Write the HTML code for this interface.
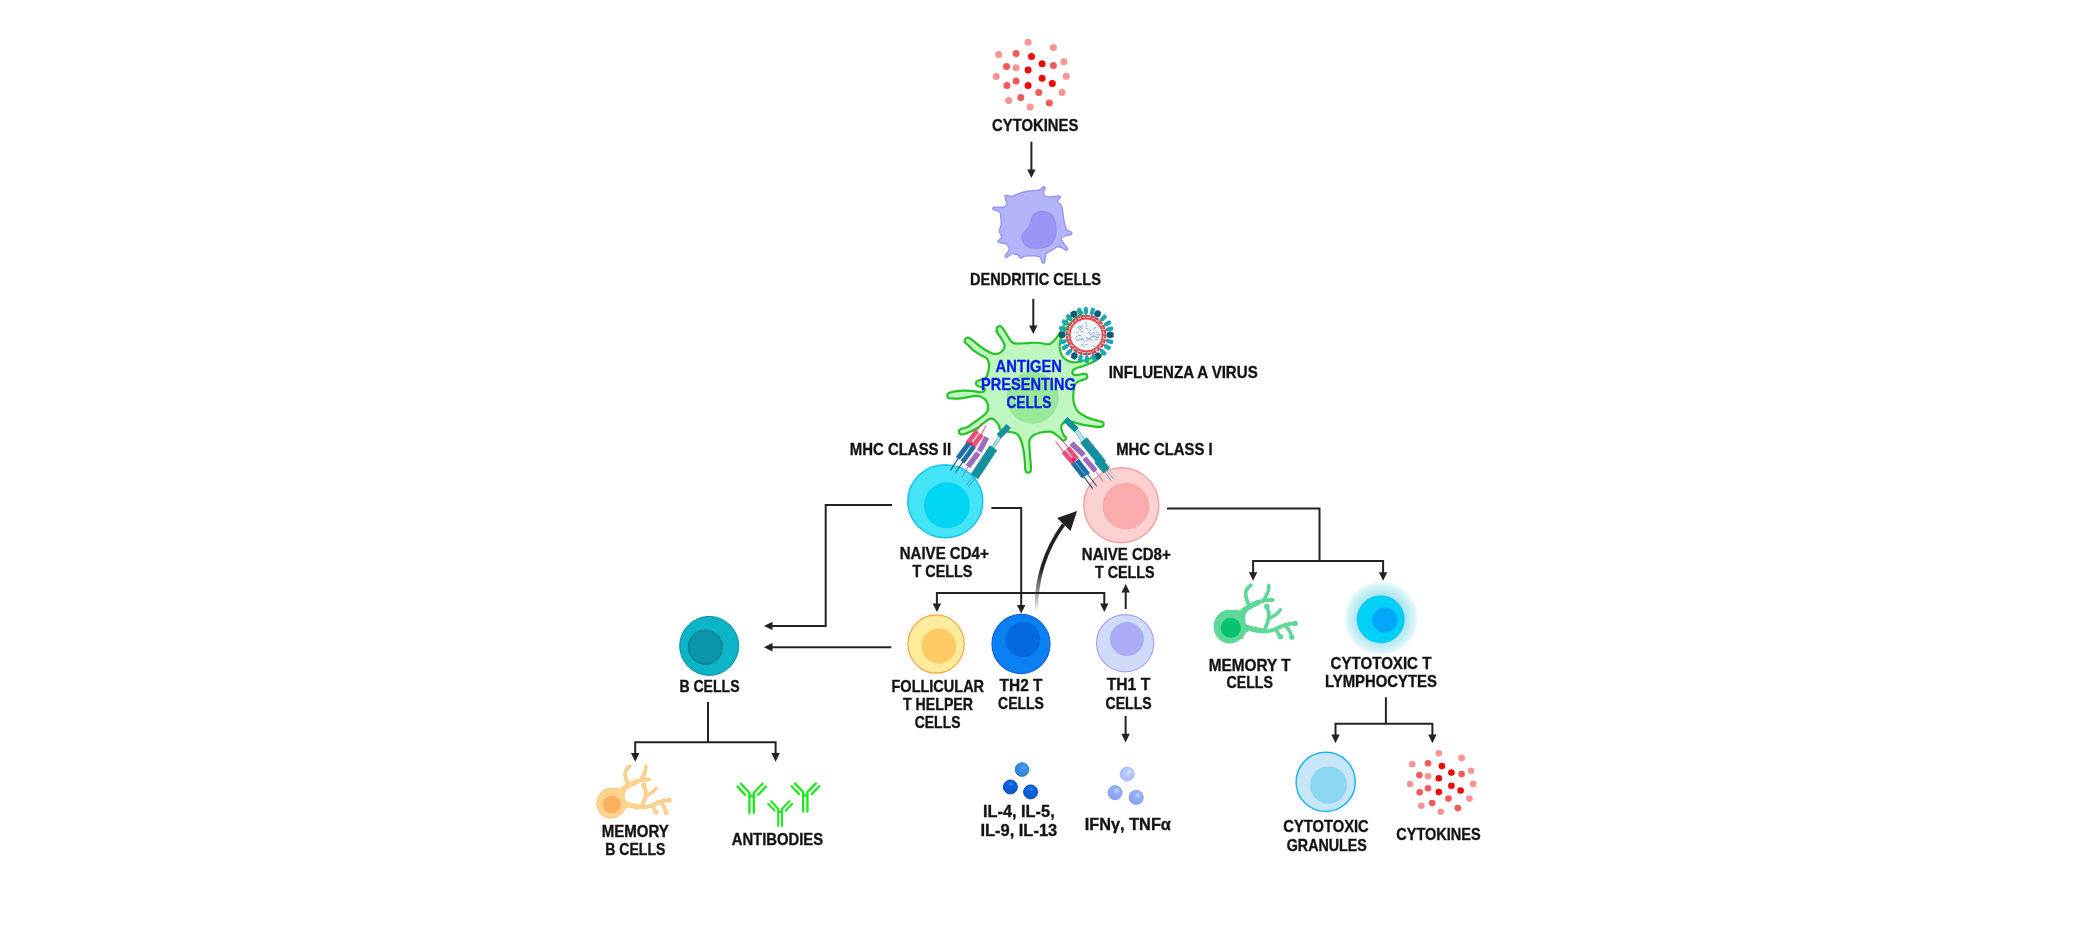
<!DOCTYPE html>
<html><head><meta charset="utf-8">
<style>
html,body{margin:0;padding:0;background:#fff;}
body{width:2083px;height:948px;overflow:hidden;}
svg{display:block;will-change:transform;}
text{font-family:"Liberation Sans",sans-serif;font-weight:bold;font-size:16.5px;fill:#141414;stroke:#141414;stroke-width:0.35px;}
</style></head><body>
<svg width="2083" height="948" viewBox="0 0 2083 948">

<rect width="2083" height="948" fill="#fff"/>

<g fill="none" stroke="#232323" stroke-width="2"><path d="M1031.4,141.7 V172"/><path d="M1033.3,299 V328"/><path d="M892,505 H825.7 V625.9 H770"/><path d="M891.3,647.2 H770"/><path d="M991.4,507.9 H1021.2 V607"/><path d="M936.9,606 V593.1 H1104.3 V606"/><path d="M1125.7,609 V590"/><path d="M1125.6,716 V736"/><path d="M708,702 V742.2"/><path d="M635.2,755 V742.2 H775.6 V755"/><path d="M1167,508.4 H1319.5 V560.9"/><path d="M1253.1,574 V560.9 H1383.1 V574"/><path d="M1385.9,697.2 V723.8"/><path d="M1335.5,736 V723.8 H1432.4 V736"/></g>
<g fill="#232323"><path d="M1027.2,169.4 L1035.6,169.4 L1031.4,178.0 Z"/><path d="M1029.1,325.4 L1037.5,325.4 L1033.3,334.0 Z"/><path d="M772.5,621.7 L772.5,630.1 L763.9,625.9 Z"/><path d="M772.5,643.0 L772.5,651.4 L763.9,647.2 Z"/><path d="M1017.0,604.9 L1025.4,604.9 L1021.2,613.5 Z"/><path d="M932.7,603.4 L941.1,603.4 L936.9,612.0 Z"/><path d="M1100.1,603.4 L1108.5,603.4 L1104.3,612.0 Z"/><path d="M1121.5,592.6 L1129.9,592.6 L1125.7,584.0 Z"/><path d="M1121.4,733.8 L1129.8,733.8 L1125.6,742.4 Z"/><path d="M631.0,753.1 L639.4,753.1 L635.2,761.7 Z"/><path d="M771.4,753.1 L779.8,753.1 L775.6,761.7 Z"/><path d="M1248.9,572.2 L1257.3,572.2 L1253.1,580.8 Z"/><path d="M1378.9,572.2 L1387.3,572.2 L1383.1,580.8 Z"/><path d="M1331.3,734.6 L1339.7,734.6 L1335.5,743.2 Z"/><path d="M1428.2,734.6 L1436.6,734.6 L1432.4,743.2 Z"/></g>
<defs><linearGradient id="cg" gradientUnits="userSpaceOnUse" x1="0" y1="612" x2="0" y2="568"><stop offset="0" stop-color="#222" stop-opacity="0"/><stop offset="1" stop-color="#222" stop-opacity="1"/></linearGradient></defs>
<path d="M1036.3,611 C1036,582 1043,553 1063.5,524.5" fill="none" stroke="url(#cg)" stroke-width="3.8"/>
<path d="M1057.1,517.9 L1077.1,510.9 L1070.5,530.9 Z" fill="#222"/>
<g><circle cx="1028.1" cy="42.2" r="3.50" fill="#f89494"/><circle cx="1053.4" cy="47.4" r="3.50" fill="#f89494"/><circle cx="998.6" cy="54.4" r="3.50" fill="#f89494"/><circle cx="1016.1" cy="53.4" r="3.50" fill="#f35a5a"/><circle cx="1031.5" cy="56.5" r="3.50" fill="#ee0a0a"/><circle cx="1063.9" cy="61.7" r="3.50" fill="#f89494"/><circle cx="1042.1" cy="63.7" r="3.50" fill="#ee0a0a"/><circle cx="1053.4" cy="65.4" r="3.50" fill="#f35a5a"/><circle cx="1006.5" cy="66.5" r="3.50" fill="#f35a5a"/><circle cx="1016.1" cy="67.7" r="3.50" fill="#f89494"/><circle cx="1028.1" cy="70.0" r="3.50" fill="#ee0a0a"/><circle cx="996.2" cy="76.4" r="3.50" fill="#f89494"/><circle cx="1066.2" cy="76.2" r="3.50" fill="#f89494"/><circle cx="1016.1" cy="81.0" r="3.50" fill="#f35a5a"/><circle cx="1042.1" cy="78.3" r="3.50" fill="#ee0a0a"/><circle cx="1006.9" cy="85.5" r="3.50" fill="#f35a5a"/><circle cx="1028.1" cy="85.4" r="3.50" fill="#ee0a0a"/><circle cx="1052.3" cy="83.6" r="3.50" fill="#ee0a0a"/><circle cx="1038.8" cy="92.6" r="3.50" fill="#f35a5a"/><circle cx="1062.1" cy="92.6" r="3.50" fill="#f89494"/><circle cx="1008.7" cy="100.5" r="3.50" fill="#f89494"/><circle cx="1020.8" cy="97.6" r="3.50" fill="#f35a5a"/><circle cx="1030.2" cy="107.1" r="3.50" fill="#f89494"/><circle cx="1049.3" cy="103.1" r="3.50" fill="#f35a5a"/></g>
<g><circle cx="1438.8" cy="753.2" r="3.32" fill="#f89494"/><circle cx="1461.6" cy="757.9" r="3.32" fill="#f89494"/><circle cx="1412.2" cy="764.2" r="3.32" fill="#f89494"/><circle cx="1428.0" cy="763.3" r="3.32" fill="#f35a5a"/><circle cx="1441.9" cy="766.1" r="3.32" fill="#ee0a0a"/><circle cx="1471.0" cy="770.8" r="3.32" fill="#f89494"/><circle cx="1451.4" cy="772.6" r="3.32" fill="#ee0a0a"/><circle cx="1461.6" cy="774.1" r="3.32" fill="#f35a5a"/><circle cx="1419.4" cy="775.1" r="3.32" fill="#f35a5a"/><circle cx="1428.0" cy="776.2" r="3.32" fill="#f89494"/><circle cx="1438.8" cy="778.3" r="3.32" fill="#ee0a0a"/><circle cx="1410.1" cy="784.0" r="3.32" fill="#f89494"/><circle cx="1473.1" cy="783.9" r="3.32" fill="#f89494"/><circle cx="1428.0" cy="788.2" r="3.32" fill="#f35a5a"/><circle cx="1451.4" cy="785.7" r="3.32" fill="#ee0a0a"/><circle cx="1419.7" cy="792.2" r="3.32" fill="#f35a5a"/><circle cx="1438.8" cy="792.1" r="3.32" fill="#ee0a0a"/><circle cx="1460.6" cy="790.5" r="3.32" fill="#ee0a0a"/><circle cx="1448.4" cy="798.6" r="3.32" fill="#f35a5a"/><circle cx="1469.4" cy="798.6" r="3.32" fill="#f89494"/><circle cx="1421.3" cy="805.7" r="3.32" fill="#f89494"/><circle cx="1432.2" cy="803.1" r="3.32" fill="#f35a5a"/><circle cx="1440.7" cy="811.7" r="3.32" fill="#f89494"/><circle cx="1457.9" cy="808.1" r="3.32" fill="#f35a5a"/></g>
<path d="M1013.5,195.9 C1015.0,195.4 1016.8,194.1 1019.2,193.3 C1021.5,192.5 1024.9,191.7 1027.7,191.2 C1030.6,190.7 1034.3,190.6 1036.2,190.4 C1038.2,190.2 1038.5,190.5 1039.6,190.0 C1040.7,189.5 1042.1,187.9 1042.8,187.4 C1043.5,186.8 1043.3,186.9 1043.6,186.8 C1044.0,186.8 1044.4,186.9 1044.6,187.1 C1044.9,187.3 1045.1,187.7 1045.2,188.0 C1045.2,188.3 1045.3,188.1 1044.9,189.0 C1044.6,189.8 1042.9,191.9 1043.1,193.1 C1043.2,194.3 1044.3,195.5 1045.7,196.1 C1047.1,196.7 1049.8,196.7 1051.4,196.7 C1053.0,196.7 1054.3,196.4 1055.4,196.3 C1056.6,196.2 1057.7,196.1 1058.4,196.0 C1059.0,196.0 1059.0,195.8 1059.3,195.9 C1059.6,195.9 1059.9,196.2 1060.1,196.4 C1060.2,196.7 1060.3,197.1 1060.2,197.4 C1060.2,197.7 1060.2,197.5 1059.7,198.1 C1059.2,198.8 1057.3,200.1 1057.3,201.1 C1057.4,202.1 1059.2,203.1 1060.0,204.2 C1060.8,205.3 1061.5,205.5 1062.1,207.5 C1062.6,209.5 1062.9,213.2 1063.3,216.1 C1063.7,218.9 1064.1,222.3 1064.7,224.6 C1065.3,226.9 1065.8,228.6 1066.8,229.8 C1067.8,231.0 1070.0,231.4 1070.8,231.8 C1071.6,232.2 1071.5,232.1 1071.7,232.3 C1071.9,232.6 1072.0,233.0 1071.9,233.3 C1071.9,233.6 1071.7,234.0 1071.4,234.2 C1071.2,234.4 1071.3,234.2 1070.4,234.5 C1069.6,234.7 1067.8,235.1 1066.4,235.5 C1065.1,235.9 1063.2,236.3 1062.3,236.9 C1061.5,237.6 1061.1,238.5 1061.4,239.6 C1061.7,240.7 1063.0,242.4 1064.0,243.8 C1064.9,245.2 1066.5,247.1 1067.1,248.0 C1067.7,248.8 1067.5,248.5 1067.5,248.8 C1067.5,249.1 1067.4,249.5 1067.2,249.7 C1067.0,249.9 1066.6,250.1 1066.3,250.2 C1066.0,250.2 1066.2,250.2 1065.4,249.8 C1064.6,249.4 1062.8,248.1 1061.4,247.6 C1060.0,247.1 1058.8,246.4 1057.1,246.9 C1055.5,247.4 1053.3,249.6 1051.4,250.7 C1049.6,251.8 1047.2,252.6 1046.2,253.6 C1045.2,254.5 1045.8,255.3 1045.5,256.7 C1045.3,258.0 1044.8,260.7 1044.6,261.7 C1044.4,262.7 1044.5,262.5 1044.3,262.7 C1044.1,262.9 1043.7,263.1 1043.4,263.1 C1043.0,263.2 1042.6,263.0 1042.4,262.8 C1042.1,262.6 1042.3,262.8 1041.9,261.9 C1041.6,261.0 1041.5,258.3 1040.4,257.3 C1039.3,256.4 1037.3,256.2 1035.3,255.9 C1033.3,255.7 1030.6,255.8 1028.7,255.9 C1026.8,256.0 1025.0,256.1 1023.9,256.4 C1022.8,256.7 1022.8,257.4 1022.2,257.6 C1021.6,257.9 1021.0,258.4 1020.3,258.0 C1019.6,257.6 1019.2,255.8 1018.2,255.2 C1017.2,254.5 1015.5,254.3 1014.4,254.0 C1013.3,253.8 1012.9,253.1 1011.8,253.6 C1010.6,254.0 1008.3,256.3 1007.4,257.0 C1006.6,257.6 1006.8,257.4 1006.5,257.5 C1006.2,257.5 1005.8,257.3 1005.6,257.1 C1005.3,256.9 1005.1,256.5 1005.1,256.2 C1005.1,255.9 1004.8,256.3 1005.5,255.2 C1006.1,254.1 1008.6,251.1 1009.1,249.7 C1009.6,248.2 1008.8,247.4 1008.3,246.4 C1007.7,245.5 1006.6,244.3 1005.9,243.8 C1005.2,243.3 1005.0,243.6 1004.0,243.4 C1002.9,243.2 1000.4,242.7 999.6,242.5 C998.7,242.3 998.9,242.5 998.6,242.4 C998.4,242.3 998.1,241.9 998.0,241.6 C998.0,241.3 998.0,240.9 998.1,240.7 C998.3,240.4 998.3,240.7 998.9,240.1 C999.5,239.6 1001.3,238.2 1001.6,237.3 C1001.9,236.4 1001.1,235.6 1000.7,234.6 C1000.3,233.6 999.3,232.4 999.2,231.2 C999.2,230.1 999.9,229.0 1000.2,227.9 C1000.5,226.8 1001.0,226.3 1001.1,224.6 C1001.3,222.9 1001.1,219.8 1000.9,218.0 C1000.8,216.1 1000.7,214.5 1000.4,213.4 C1000.1,212.3 1000.1,212.1 999.0,211.5 C998.0,210.9 994.9,210.1 993.9,209.7 C992.9,209.3 993.3,209.4 993.1,209.2 C992.9,209.0 992.8,208.6 992.9,208.3 C992.9,208.0 993.1,207.6 993.4,207.5 C993.6,207.3 993.0,207.3 994.3,207.3 C995.6,207.2 999.3,207.4 1000.9,207.3 C1002.6,207.3 1003.0,207.5 1004.0,207.0 C1005.0,206.6 1006.4,205.6 1006.8,204.7 C1007.2,203.7 1006.5,202.3 1006.4,201.4 C1006.2,200.6 1005.9,200.4 1005.7,199.7 C1005.5,199.0 1005.4,197.8 1005.2,197.2 C1005.1,196.7 1004.8,196.7 1004.8,196.4 C1004.8,196.1 1005.0,195.7 1005.2,195.5 C1005.4,195.3 1005.7,195.1 1006.0,195.1 C1006.3,195.1 1006.2,195.2 1006.9,195.4 C1007.6,195.6 1009.1,196.2 1010.1,196.3 C1011.2,196.4 1012.0,196.5 1013.5,195.9Z" fill="#b4b4fb" stroke="#9696f0" stroke-width="1.4"/>
<path d="M1041.9,211.3 C1044.2,211.7 1049.1,212.0 1051.4,214.2 C1053.7,216.4 1055.1,220.8 1055.7,224.6 C1056.3,228.4 1056.3,233.5 1055.2,236.9 C1054.2,240.4 1052.4,243.6 1049.5,245.5 C1046.7,247.4 1041.9,248.2 1038.1,248.3 C1034.4,248.5 1029.4,248.0 1026.8,246.4 C1024.1,244.9 1022.5,241.2 1022.0,238.8 C1021.5,236.5 1022.6,234.4 1023.9,232.2 C1025.2,230.0 1028.2,228.2 1029.6,225.6 C1031.0,222.9 1031.0,218.4 1032.5,216.1 C1033.9,213.8 1036.6,212.6 1038.1,211.8 C1039.7,211.0 1039.7,210.9 1041.9,211.3Z" fill="#9a94f6" stroke="#8a84e6" stroke-width="0.8"/>
<path d="M959.0,390.8 C962.6,390.5 967.5,390.6 971.3,390.8 C975.1,391.0 979.6,392.6 981.8,392.2 C984.0,391.8 985.4,389.5 984.6,388.4 C983.8,387.3 978.3,386.6 977.0,385.5 C975.7,384.4 976.0,382.6 976.6,381.7 C977.2,380.8 979.3,380.4 980.8,379.8 C982.3,379.2 984.3,379.3 985.6,377.9 C986.9,376.5 987.9,373.7 988.4,371.3 C988.9,368.9 989.2,365.9 988.9,363.7 C988.6,361.5 987.9,359.4 986.5,358.0 C985.1,356.6 983.1,356.5 980.8,355.1 C978.5,353.8 974.9,351.5 972.8,349.9 C970.7,348.2 969.4,346.3 968.3,345.2 C967.2,344.1 966.6,344.1 966.0,343.4 C965.3,342.8 964.8,342.1 964.7,341.3 C964.6,340.6 964.9,339.6 965.4,339.0 C965.8,338.3 966.7,337.8 967.5,337.7 C968.2,337.6 968.8,337.8 969.8,338.4 C970.9,338.9 971.4,339.6 973.5,341.2 C975.6,342.8 979.0,345.8 982.3,347.9 C985.6,350.0 990.1,353.0 993.2,353.7 C996.3,354.4 998.9,353.6 1000.8,352.3 C1002.7,351.0 1004.6,348.0 1004.6,345.6 C1004.6,343.2 1002.1,340.3 1000.8,338.0 C999.5,335.7 997.2,332.8 996.6,331.6 C996.0,330.4 996.9,331.3 996.9,330.7 C997.0,330.2 996.5,329.0 996.7,328.3 C996.9,327.6 997.6,326.9 998.3,326.5 C998.9,326.2 1000.0,326.1 1000.7,326.3 C1001.4,326.5 1001.5,326.6 1002.5,327.9 C1003.4,329.2 1004.9,331.8 1006.5,334.2 C1008.1,336.6 1010.2,340.7 1012.2,342.3 C1014.2,343.9 1015.8,343.6 1018.8,343.7 C1021.8,343.8 1026.7,342.9 1030.2,342.8 C1033.8,342.7 1037.0,342.8 1040.1,343.0 C1043.2,343.2 1046.5,344.9 1049.0,344.3 C1051.5,343.7 1053.3,341.4 1055.3,339.2 C1057.3,337.0 1058.8,334.5 1061.0,331.0 C1063.2,327.5 1065.6,321.5 1068.3,318.3 C1071.0,315.1 1074.7,312.5 1077.0,311.6 C1079.3,310.7 1082.8,311.3 1082.0,313.0 C1081.2,314.7 1075.0,318.8 1072.0,322.0 C1069.0,325.2 1065.9,329.0 1064.0,332.0 C1062.1,335.0 1061.2,337.3 1060.5,340.0 C1059.8,342.7 1059.3,345.3 1059.7,348.2 C1060.1,351.1 1061.1,354.8 1062.9,357.1 C1064.8,359.4 1068.2,361.1 1070.8,361.9 C1073.4,362.7 1076.1,362.2 1078.7,361.9 C1081.3,361.5 1084.4,360.5 1086.6,359.8 C1088.8,359.1 1090.0,358.3 1091.9,357.7 C1093.8,357.1 1096.6,356.7 1098.2,356.1 C1099.8,355.5 1101.6,353.8 1101.6,354.3 C1101.6,354.8 1099.8,357.5 1098.2,358.9 C1096.6,360.3 1094.7,361.3 1091.9,362.6 C1089.1,363.9 1084.2,365.6 1081.4,366.6 C1078.6,367.6 1076.5,367.8 1075.0,368.7 C1073.5,369.6 1072.4,370.8 1072.4,371.9 C1072.4,373.0 1073.1,374.8 1075.0,375.1 C1076.9,375.4 1082.1,374.0 1083.9,373.8 C1085.8,373.6 1085.5,373.7 1086.0,374.0 C1086.6,374.4 1087.1,375.1 1087.2,375.7 C1087.4,376.4 1087.3,377.3 1087.0,377.8 C1086.6,378.4 1086.8,378.3 1085.3,379.0 C1083.7,379.7 1079.5,380.7 1077.7,381.9 C1075.9,383.1 1075.2,383.6 1074.5,386.0 C1073.8,388.4 1073.3,393.1 1073.3,396.2 C1073.2,399.2 1073.4,401.7 1074.2,404.3 C1075.0,406.9 1075.9,409.5 1077.9,411.6 C1079.9,413.7 1083.0,415.4 1086.3,416.9 C1089.6,418.4 1095.4,420.0 1097.9,420.8 C1100.4,421.6 1100.4,421.3 1101.3,421.6 C1102.1,421.9 1102.7,422.1 1103.1,422.5 C1103.4,423.0 1103.7,423.9 1103.6,424.5 C1103.5,425.1 1103.1,425.9 1102.7,426.3 C1102.2,426.6 1102.0,426.7 1100.7,426.8 C1099.4,426.8 1098.1,427.0 1094.8,426.6 C1091.5,426.2 1085.4,425.2 1081.0,424.3 C1076.6,423.4 1071.6,421.1 1068.4,421.1 C1065.2,421.1 1063.2,422.9 1062.1,424.3 C1060.9,425.7 1061.2,427.7 1061.5,429.6 C1061.8,431.5 1063.6,434.8 1064.2,435.9 C1064.8,437.0 1064.9,436.0 1065.2,436.4 C1065.5,436.8 1066.0,437.5 1066.0,438.1 C1066.1,438.6 1065.8,439.4 1065.4,439.8 C1065.0,440.2 1064.3,440.6 1063.7,440.6 C1063.2,440.7 1063.0,440.8 1062.0,440.0 C1061.0,439.2 1059.7,437.3 1057.8,435.9 C1055.9,434.5 1053.5,432.2 1050.5,431.7 C1047.5,431.2 1042.9,432.0 1039.9,432.7 C1036.9,433.4 1034.2,434.5 1032.5,435.9 C1030.8,437.3 1029.8,438.2 1029.4,441.2 C1029.0,444.2 1029.7,449.6 1029.9,453.8 C1030.2,458.0 1030.7,463.8 1030.9,466.5 C1031.1,469.2 1031.1,468.9 1031.0,469.7 C1030.9,470.6 1030.8,471.3 1030.3,471.8 C1029.9,472.3 1029.0,472.7 1028.4,472.7 C1027.7,472.7 1026.8,472.5 1026.3,472.0 C1025.8,471.6 1025.6,471.0 1025.4,470.1 C1025.2,469.1 1025.3,469.2 1025.1,466.5 C1024.9,463.8 1024.8,458.2 1024.1,453.8 C1023.4,449.4 1022.1,443.4 1020.9,440.1 C1019.7,436.8 1018.8,435.2 1016.7,433.8 C1014.6,432.4 1010.9,432.2 1008.3,431.7 C1005.7,431.2 1002.5,431.7 1000.9,430.6 C999.3,429.5 999.8,427.1 998.8,425.3 C997.8,423.6 996.2,421.2 994.6,420.1 C993.0,419.1 992.3,417.6 989.3,419.0 C986.3,420.4 980.5,426.1 976.6,428.5 C972.7,430.9 968.4,432.6 966.0,433.6 C963.6,434.6 963.4,434.2 962.5,434.3 C961.5,434.4 960.9,434.4 960.3,434.0 C959.8,433.7 959.2,432.9 959.1,432.3 C958.9,431.6 959.0,430.7 959.4,430.1 C959.7,429.6 959.9,429.4 961.1,428.9 C962.4,428.4 965.3,428.1 967.0,427.3 C968.7,426.5 968.9,426.0 971.4,424.3 C973.9,422.6 979.3,419.0 981.9,416.9 C984.5,414.8 986.2,413.7 987.2,411.6 C988.2,409.5 988.2,406.5 987.7,404.3 C987.2,402.1 985.9,399.9 984.0,398.5 C982.1,397.1 980.5,395.8 976.6,395.8 C972.7,395.8 965.2,398.0 960.8,398.4 C956.4,398.8 952.5,398.5 950.5,398.4 C948.4,398.3 948.8,398.2 948.3,397.8 C947.8,397.3 947.4,396.5 947.3,395.8 C947.2,395.1 947.5,394.1 947.9,393.6 C948.4,393.1 948.1,393.1 949.9,392.6 C951.8,392.1 955.4,391.1 959.0,390.8Z" fill="#c0f6c0" stroke="#25c325" stroke-width="2.2" stroke-linejoin="round"/>
<circle cx="1032.6" cy="397.7" r="25.6" fill="#98ea98" stroke="#88dd88" stroke-width="0.6"/>
<ellipse cx="945.3" cy="501.2" rx="37.5" ry="36.5" fill="#43e4f6" stroke="#19c2ef" stroke-width="1.5"/>
<circle cx="946.9" cy="505.2" r="23" fill="#00d6f4"/>
<circle cx="1121.3" cy="505.3" r="37.5" fill="#fdd0d1" stroke="#f2a3a5" stroke-width="1.5"/>
<circle cx="1125.9" cy="506" r="22.8" fill="#fbabad" stroke="#f59fa2" stroke-width="0.8"/>
<circle cx="709.2" cy="645.9" r="29.5" fill="#0bb4c7" stroke="#0a8fa3" stroke-width="1"/>
<circle cx="705.4" cy="647.2" r="17" fill="#0b96ac" stroke="#0a6f82" stroke-width="1"/>
<ellipse cx="936.1" cy="644" rx="28.1" ry="29.2" fill="#feec9c" stroke="#f5a33c" stroke-width="1.2"/>
<circle cx="938.8" cy="646.1" r="17.4" fill="#fdca63"/>
<ellipse cx="1021" cy="644" rx="29" ry="29.6" fill="#0a80f2" stroke="#0a62d9" stroke-width="1.2"/>
<circle cx="1022.9" cy="639.6" r="17.4" fill="#0468de"/>
<circle cx="1125.1" cy="643.2" r="28.6" fill="#d0dbf9" stroke="#aba0f5" stroke-width="1.2"/>
<circle cx="1126.9" cy="639.1" r="17" fill="#ababf6"/>
<circle cx="1325.7" cy="781.9" r="29.6" fill="#c7e6f8" stroke="#1ab4ee" stroke-width="1.5"/>
<circle cx="1328.5" cy="785" r="18.6" fill="#8bd6f3"/>
<g><path d="M975.8,432.4 L982.2,422.9" stroke="#d43c68" stroke-width="0.95" stroke-linecap="butt" fill="none"/><path d="M980.6,436.0 L986.1,425.3" stroke="#d43c68" stroke-width="0.95" stroke-linecap="butt" fill="none"/><path d="M958.8,457.3 L950.5,470.4" stroke="#1d4a6a" stroke-width="1.03" stroke-linecap="butt" fill="none"/><path d="M963.6,460.9 L955.3,472.7" stroke="#1d4a6a" stroke-width="1.03" stroke-linecap="butt" fill="none"/><path d="M968.7,465.6 L962.0,477.5" stroke="#9b6cb9" stroke-width="0.95" stroke-linecap="butt" fill="none"/><path d="M975.1,475.1 L966.0,485.4" stroke="#16909f" stroke-width="0.71" stroke-linecap="butt" fill="none"/><path d="M977.0,476.3 L968.3,487.0" stroke="#16909f" stroke-width="0.71" stroke-linecap="butt" fill="none"/><path d="M973.1,474.3 L964.8,483.8" stroke="#5cc0cf" stroke-width="0.55" stroke-linecap="butt" fill="none"/><path d="M967.2,443.8 L977.0,430.9" stroke="#ea5079" stroke-width="4.90" fill="none"/><path d="M972.0,447.7 L981.7,434.5" stroke="#ea5079" stroke-width="4.90" fill="none"/><path d="M957.7,458.4 L969.0,443.2" stroke="#1c6ea6" stroke-width="4.90" fill="none"/><path d="M962.5,462.0 L973.8,446.3" stroke="#1c6ea6" stroke-width="4.90" fill="none"/><path d="M962.6,458.1 L971.1,445.8" stroke="#bfd8e8" stroke-width="0.55" stroke-linecap="butt" fill="none"/><circle cx="971.1" cy="443.5" r="1.58" fill="#e0105a"/><path d="M979.3,451.6 L986.7,437.3" stroke="#9b6cb9" stroke-width="5.38" fill="none"/><path d="M967.9,466.5 L978.3,452.9" stroke="#9b6cb9" stroke-width="5.38" fill="none"/><path d="M991.7,449.4 L1001.1,435.2" stroke="#bfe6ec" stroke-width="3.64" fill="none"/><path d="M991.3,447.8 L999.2,436.0" stroke="#16909f" stroke-width="0.55" stroke-linecap="butt" fill="none"/><path d="M993.6,448.6 L1001.6,436.8" stroke="#16909f" stroke-width="0.55" stroke-linecap="butt" fill="none"/><path d="M998.8,436.4 L1008.7,426.0" stroke="#16909f" stroke-width="6.01" fill="none"/><path d="M974.4,476.7 L993.5,447.8" stroke="#16909f" stroke-width="8.86" fill="none"/><path d="M1063.8,452.2 L1055.5,441.1" stroke="#d43c68" stroke-width="0.95" stroke-linecap="butt" fill="none"/><path d="M1068.6,448.2 L1060.3,437.9" stroke="#d43c68" stroke-width="0.95" stroke-linecap="butt" fill="none"/><path d="M1083.2,475.9 L1092.7,488.6" stroke="#1d4a6a" stroke-width="1.03" stroke-linecap="butt" fill="none"/><path d="M1087.2,473.5 L1096.7,486.2" stroke="#1d4a6a" stroke-width="1.03" stroke-linecap="butt" fill="none"/><path d="M1095.1,470.4 L1103.0,481.4" stroke="#9b6cb9" stroke-width="0.95" stroke-linecap="butt" fill="none"/><path d="M1105.4,468.8 L1113.7,479.1" stroke="#16909f" stroke-width="0.63" stroke-linecap="butt" fill="none"/><path d="M1103.4,470.0 L1111.3,480.6" stroke="#16909f" stroke-width="0.63" stroke-linecap="butt" fill="none"/><path d="M1107.3,467.6 L1115.6,477.5" stroke="#5cc0cf" stroke-width="0.47" stroke-linecap="butt" fill="none"/><path d="M1063.4,451.6 L1073.7,463.4" stroke="#ea5079" stroke-width="4.75" fill="none"/><path d="M1067.9,447.6 L1077.2,459.5" stroke="#ea5079" stroke-width="4.75" fill="none"/><path d="M1073.0,463.0 L1084.0,477.0" stroke="#1c6ea6" stroke-width="4.90" fill="none"/><path d="M1077.0,460.2 L1087.9,474.6" stroke="#1c6ea6" stroke-width="4.90" fill="none"/><path d="M1075.3,462.5 L1085.6,475.1" stroke="#bfd8e8" stroke-width="0.55" stroke-linecap="butt" fill="none"/><circle cx="1073.3" cy="459.7" r="1.74" fill="#e0105a"/><path d="M1071.5,443.2 L1083.9,455.2" stroke="#9b6cb9" stroke-width="5.38" fill="none"/><path d="M1084.4,457.8 L1095.5,471.0" stroke="#9b6cb9" stroke-width="5.06" fill="none"/><path d="M1075.3,428.9 L1084.0,441.4" stroke="#bfe6ec" stroke-width="3.64" fill="none"/><path d="M1074.1,430.4 L1081.2,441.1" stroke="#16909f" stroke-width="0.55" stroke-linecap="butt" fill="none"/><path d="M1077.7,429.2 L1084.8,439.5" stroke="#16909f" stroke-width="0.55" stroke-linecap="butt" fill="none"/><path d="M1065.3,419.3 L1076.6,430.1" stroke="#16909f" stroke-width="6.17" fill="none"/><path d="M1083.5,440.1 L1102.7,463.8" stroke="#16909f" stroke-width="8.70" fill="none"/><path d="M1097.7,460.0 L1106.7,470.5" stroke="#149098" stroke-width="8.54" fill="none"/></g>
<g><rect x="20.8" y="-2.1" width="7.2" height="4.2" rx="1.6" fill="#1fa6b6" transform="translate(1086.2,334.9) rotate(-105.5)"/><rect x="20.8" y="-2.1" width="7.2" height="4.2" rx="1.6" fill="#1fa6b6" transform="translate(1086.2,334.9) rotate(-90.8)"/><rect x="20.8" y="-2.1" width="7.2" height="4.2" rx="1.6" fill="#1fa6b6" transform="translate(1086.2,334.9) rotate(-75.2)"/><g transform="translate(1086.2,334.9) rotate(-61.6)"><rect x="20.8" y="-2.6" width="6.6" height="5.2" rx="1.2" fill="#10577a"/><rect x="22.3" y="-3.3" width="3.4" height="6.6" rx="1.2" fill="#10577a"/></g><rect x="20.8" y="-2.1" width="7.2" height="4.2" rx="1.6" fill="#1fa6b6" transform="translate(1086.2,334.9) rotate(-44.5)"/><rect x="20.8" y="-2.1" width="7.2" height="4.2" rx="1.6" fill="#1fa6b6" transform="translate(1086.2,334.9) rotate(-28.2)"/><rect x="20.8" y="-2.1" width="7.2" height="4.2" rx="1.6" fill="#1fa6b6" transform="translate(1086.2,334.9) rotate(-14.0)"/><g transform="translate(1086.2,334.9) rotate(0.0)"><rect x="20.8" y="-2.6" width="6.6" height="5.2" rx="1.2" fill="#10577a"/><rect x="22.3" y="-3.3" width="3.4" height="6.6" rx="1.2" fill="#10577a"/></g><rect x="20.8" y="-2.1" width="7.2" height="4.2" rx="1.6" fill="#1fa6b6" transform="translate(1086.2,334.9) rotate(15.7)"/><rect x="20.8" y="-2.1" width="7.2" height="4.2" rx="1.6" fill="#1fa6b6" transform="translate(1086.2,334.9) rotate(30.0)"/><rect x="20.8" y="-2.1" width="7.2" height="4.2" rx="1.6" fill="#1fa6b6" transform="translate(1086.2,334.9) rotate(45.5)"/><g transform="translate(1086.2,334.9) rotate(61.3)"><rect x="20.8" y="-2.6" width="6.6" height="5.2" rx="1.2" fill="#10577a"/><rect x="22.3" y="-3.3" width="3.4" height="6.6" rx="1.2" fill="#10577a"/></g><rect x="20.8" y="-2.1" width="7.2" height="4.2" rx="1.6" fill="#1fa6b6" transform="translate(1086.2,334.9) rotate(71.6)"/><rect x="20.8" y="-2.1" width="7.2" height="4.2" rx="1.6" fill="#1fa6b6" transform="translate(1086.2,334.9) rotate(88.5)"/><rect x="20.8" y="-2.1" width="7.2" height="4.2" rx="1.6" fill="#1fa6b6" transform="translate(1086.2,334.9) rotate(104.0)"/><g transform="translate(1086.2,334.9) rotate(119.5)"><rect x="20.8" y="-2.6" width="6.6" height="5.2" rx="1.2" fill="#10577a"/><rect x="22.3" y="-3.3" width="3.4" height="6.6" rx="1.2" fill="#10577a"/></g><rect x="20.8" y="-2.1" width="7.2" height="4.2" rx="1.6" fill="#1fa6b6" transform="translate(1086.2,334.9) rotate(135.0)"/><rect x="20.8" y="-2.1" width="7.2" height="4.2" rx="1.6" fill="#1fa6b6" transform="translate(1086.2,334.9) rotate(150.1)"/><rect x="20.8" y="-2.1" width="7.2" height="4.2" rx="1.6" fill="#1fa6b6" transform="translate(1086.2,334.9) rotate(163.4)"/><g transform="translate(1086.2,334.9) rotate(180.0)"><rect x="20.8" y="-2.6" width="6.6" height="5.2" rx="1.2" fill="#10577a"/><rect x="22.3" y="-3.3" width="3.4" height="6.6" rx="1.2" fill="#10577a"/></g><rect x="20.8" y="-2.1" width="7.2" height="4.2" rx="1.6" fill="#1fa6b6" transform="translate(1086.2,334.9) rotate(-164.9)"/><rect x="20.8" y="-2.1" width="7.2" height="4.2" rx="1.6" fill="#1fa6b6" transform="translate(1086.2,334.9) rotate(-149.3)"/><rect x="20.8" y="-2.1" width="7.2" height="4.2" rx="1.6" fill="#1fa6b6" transform="translate(1086.2,334.9) rotate(-134.5)"/><g transform="translate(1086.2,334.9) rotate(-120.8)"><rect x="20.8" y="-2.6" width="6.6" height="5.2" rx="1.2" fill="#10577a"/><rect x="22.3" y="-3.3" width="3.4" height="6.6" rx="1.2" fill="#10577a"/></g><circle cx="1086.2" cy="334.9" r="19.6" fill="#fde6e6"/><rect x="16.5" y="-0.7" width="5" height="1.4" fill="#1a8fa5" transform="translate(1086.2,334.9) rotate(-105.5)"/><rect x="16.5" y="-0.7" width="5" height="1.4" fill="#1a8fa5" transform="translate(1086.2,334.9) rotate(-90.8)"/><rect x="16.5" y="-0.7" width="5" height="1.4" fill="#1a8fa5" transform="translate(1086.2,334.9) rotate(-75.2)"/><rect x="16.5" y="-0.7" width="5" height="1.4" fill="#1a8fa5" transform="translate(1086.2,334.9) rotate(-61.6)"/><rect x="16.5" y="-0.7" width="5" height="1.4" fill="#1a8fa5" transform="translate(1086.2,334.9) rotate(-44.5)"/><rect x="16.5" y="-0.7" width="5" height="1.4" fill="#1a8fa5" transform="translate(1086.2,334.9) rotate(-28.2)"/><rect x="16.5" y="-0.7" width="5" height="1.4" fill="#1a8fa5" transform="translate(1086.2,334.9) rotate(-14.0)"/><rect x="16.5" y="-0.7" width="5" height="1.4" fill="#1a8fa5" transform="translate(1086.2,334.9) rotate(0.0)"/><rect x="16.5" y="-0.7" width="5" height="1.4" fill="#1a8fa5" transform="translate(1086.2,334.9) rotate(15.7)"/><rect x="16.5" y="-0.7" width="5" height="1.4" fill="#1a8fa5" transform="translate(1086.2,334.9) rotate(30.0)"/><rect x="16.5" y="-0.7" width="5" height="1.4" fill="#1a8fa5" transform="translate(1086.2,334.9) rotate(45.5)"/><rect x="16.5" y="-0.7" width="5" height="1.4" fill="#1a8fa5" transform="translate(1086.2,334.9) rotate(61.3)"/><rect x="16.5" y="-0.7" width="5" height="1.4" fill="#1a8fa5" transform="translate(1086.2,334.9) rotate(71.6)"/><rect x="16.5" y="-0.7" width="5" height="1.4" fill="#1a8fa5" transform="translate(1086.2,334.9) rotate(88.5)"/><rect x="16.5" y="-0.7" width="5" height="1.4" fill="#1a8fa5" transform="translate(1086.2,334.9) rotate(104.0)"/><rect x="16.5" y="-0.7" width="5" height="1.4" fill="#1a8fa5" transform="translate(1086.2,334.9) rotate(119.5)"/><rect x="16.5" y="-0.7" width="5" height="1.4" fill="#1a8fa5" transform="translate(1086.2,334.9) rotate(135.0)"/><rect x="16.5" y="-0.7" width="5" height="1.4" fill="#1a8fa5" transform="translate(1086.2,334.9) rotate(150.1)"/><rect x="16.5" y="-0.7" width="5" height="1.4" fill="#1a8fa5" transform="translate(1086.2,334.9) rotate(163.4)"/><rect x="16.5" y="-0.7" width="5" height="1.4" fill="#1a8fa5" transform="translate(1086.2,334.9) rotate(180.0)"/><rect x="16.5" y="-0.7" width="5" height="1.4" fill="#1a8fa5" transform="translate(1086.2,334.9) rotate(-164.9)"/><rect x="16.5" y="-0.7" width="5" height="1.4" fill="#1a8fa5" transform="translate(1086.2,334.9) rotate(-149.3)"/><rect x="16.5" y="-0.7" width="5" height="1.4" fill="#1a8fa5" transform="translate(1086.2,334.9) rotate(-134.5)"/><rect x="16.5" y="-0.7" width="5" height="1.4" fill="#1a8fa5" transform="translate(1086.2,334.9) rotate(-120.8)"/><circle cx="1086.2" cy="334.9" r="19.2" fill="none" stroke="#f03c40" stroke-width="2.3" stroke-dasharray="3.6 1.4"/><circle cx="1086.2" cy="334.9" r="16.4" fill="#eef8f9" stroke="#f24448" stroke-width="1.8"/><path d="M1085.0,336.5 Q1086.0,337.6 1087.0,338.4" fill="none" stroke="#5f68b4" stroke-width="0.8" stroke-opacity="0.75"/><path d="M1078.0,335.2 Q1079.0,335.3 1081.3,336.0" fill="none" stroke="#5f68b4" stroke-width="0.8" stroke-opacity="0.75"/><path d="M1090.2,337.9 Q1091.1,336.6 1091.9,336.7" fill="none" stroke="#5f68b4" stroke-width="0.8" stroke-opacity="0.75"/><path d="M1078.1,328.2 Q1079.0,327.7 1080.0,326.1" fill="none" stroke="#5f68b4" stroke-width="0.8" stroke-opacity="0.75"/><path d="M1086.7,338.5 Q1088.2,338.2 1089.9,338.5" fill="none" stroke="#5f68b4" stroke-width="0.8" stroke-opacity="0.75"/><path d="M1095.0,340.3 Q1095.8,339.2 1097.3,339.5" fill="none" stroke="#5f68b4" stroke-width="0.8" stroke-opacity="0.75"/><path d="M1093.1,332.3 Q1095.0,333.7 1095.3,333.9" fill="none" stroke="#5f68b4" stroke-width="0.8" stroke-opacity="0.75"/><path d="M1096.9,334.1 Q1097.1,335.4 1098.6,336.2" fill="none" stroke="#5f68b4" stroke-width="0.8" stroke-opacity="0.75"/><path d="M1093.4,328.9 Q1095.1,328.4 1095.4,327.2" fill="none" stroke="#5f68b4" stroke-width="0.8" stroke-opacity="0.75"/><path d="M1076.3,328.3 Q1077.5,327.1 1077.9,326.9" fill="none" stroke="#5f68b4" stroke-width="0.8" stroke-opacity="0.75"/><path d="M1087.7,333.5 Q1088.6,332.9 1090.6,331.8" fill="none" stroke="#5f68b4" stroke-width="0.8" stroke-opacity="0.75"/><path d="M1076.2,332.8 Q1078.1,332.7 1078.4,331.6" fill="none" stroke="#5f68b4" stroke-width="0.8" stroke-opacity="0.75"/><path d="M1081.1,344.9 Q1082.9,344.5 1083.5,343.6" fill="none" stroke="#5f68b4" stroke-width="0.8" stroke-opacity="0.75"/><path d="M1078.7,328.6 Q1079.6,328.5 1081.0,329.8" fill="none" stroke="#5f68b4" stroke-width="0.8" stroke-opacity="0.75"/><path d="M1075.5,337.1 Q1076.7,336.3 1078.3,335.7" fill="none" stroke="#5f68b4" stroke-width="0.8" stroke-opacity="0.75"/><path d="M1098.1,334.5 Q1099.4,334.2 1101.7,335.0" fill="none" stroke="#5f68b4" stroke-width="0.8" stroke-opacity="0.75"/><path d="M1079.7,326.8 Q1080.9,328.3 1083.0,328.4" fill="none" stroke="#5f68b4" stroke-width="0.8" stroke-opacity="0.75"/><path d="M1096.1,337.6 Q1096.5,338.2 1098.3,337.3" fill="none" stroke="#5f68b4" stroke-width="0.8" stroke-opacity="0.75"/><path d="M1079.4,340.2 Q1081.1,339.2 1082.6,338.7" fill="none" stroke="#5f68b4" stroke-width="0.8" stroke-opacity="0.75"/><path d="M1077.8,340.6 Q1078.7,340.3 1079.5,338.9" fill="none" stroke="#5f68b4" stroke-width="0.8" stroke-opacity="0.75"/><path d="M1089.2,329.2 Q1089.3,329.6 1090.9,330.8" fill="none" stroke="#5f68b4" stroke-width="0.8" stroke-opacity="0.75"/><path d="M1084.8,323.5 Q1086.0,322.1 1087.0,322.0" fill="none" stroke="#5f68b4" stroke-width="0.8" stroke-opacity="0.75"/><path d="M1082.6,345.1 Q1084.0,346.4 1084.7,347.5" fill="none" stroke="#5f68b4" stroke-width="0.8" stroke-opacity="0.75"/><path d="M1085.7,340.9 Q1086.9,340.4 1089.3,339.7" fill="none" stroke="#5f68b4" stroke-width="0.8" stroke-opacity="0.75"/><path d="M1092.4,345.3 Q1094.3,346.6 1095.3,346.7" fill="none" stroke="#5f68b4" stroke-width="0.8" stroke-opacity="0.75"/><path d="M1082.3,339.7 Q1083.6,341.4 1085.0,342.1" fill="none" stroke="#5f68b4" stroke-width="0.8" stroke-opacity="0.75"/><path d="M1095.7,336.8 Q1097.1,337.3 1098.3,337.4" fill="none" stroke="#5f68b4" stroke-width="0.8" stroke-opacity="0.75"/><path d="M1075.3,338.5 Q1076.8,339.7 1077.5,341.3" fill="none" stroke="#5f68b4" stroke-width="0.8" stroke-opacity="0.75"/><path d="M1092.3,337.0 Q1093.4,337.2 1095.8,336.6" fill="none" stroke="#5f68b4" stroke-width="0.8" stroke-opacity="0.75"/><path d="M1085.7,327.9 Q1087.2,329.1 1088.4,328.9" fill="none" stroke="#5f68b4" stroke-width="0.8" stroke-opacity="0.75"/><path d="M1081.0,339.5 Q1082.7,339.2 1083.0,338.4" fill="none" stroke="#5f68b4" stroke-width="0.8" stroke-opacity="0.75"/><path d="M1084.7,345.1 Q1085.7,344.5 1087.7,344.1" fill="none" stroke="#5f68b4" stroke-width="0.8" stroke-opacity="0.75"/><path d="M1096.1,331.9 Q1096.8,332.1 1098.6,332.3" fill="none" stroke="#5f68b4" stroke-width="0.8" stroke-opacity="0.75"/><path d="M1080.4,326.3 Q1081.2,326.0 1082.9,326.1" fill="none" stroke="#5f68b4" stroke-width="0.8" stroke-opacity="0.75"/><path d="M1089.5,334.7 Q1091.9,334.1 1092.8,333.6" fill="none" stroke="#5f68b4" stroke-width="0.8" stroke-opacity="0.75"/><path d="M1091.6,336.7 Q1092.5,335.6 1094.8,335.6" fill="none" stroke="#5f68b4" stroke-width="0.8" stroke-opacity="0.75"/><path d="M1094.8,328.1 Q1095.8,327.4 1096.4,326.8" fill="none" stroke="#5f68b4" stroke-width="0.8" stroke-opacity="0.75"/><path d="M1089.6,338.9 Q1091.5,339.4 1092.7,340.9" fill="none" stroke="#5f68b4" stroke-width="0.8" stroke-opacity="0.75"/><path d="M1085.6,326.5 Q1086.8,324.9 1087.4,324.3" fill="none" stroke="#5f68b4" stroke-width="0.8" stroke-opacity="0.75"/><path d="M1080.3,330.9 Q1081.8,331.8 1083.0,331.9" fill="none" stroke="#5f68b4" stroke-width="0.8" stroke-opacity="0.75"/></g>
<g transform="translate(1229.7,626.4) scale(1.000)"><path d="M4.8,-14.8 C5.1,-19.2 9.8,-13.9 12.2,-14.8 C14.7,-15.7 19.1,-20.9 19.6,-20.3 C20.2,-19.8 16.4,-13.7 15.6,-11.5 C14.8,-9.3 14.6,-8.9 14.8,-7.0 C15.1,-5.2 15.5,-2.0 17.0,-0.4 C18.6,1.2 24.1,1.6 24.0,2.6 C24.0,3.5 18.9,4.0 16.7,5.5 C14.4,7.0 12.7,14.8 10.8,11.4 C8.8,8.0 4.6,-10.4 4.8,-14.8Z" fill="#52d48f" stroke="#52d48f" stroke-width="0.60"/><path d="M10.0,-13.7 C11.6,-14.7 16.8,-18.3 19.6,-20.0 C22.4,-21.6 24.5,-22.7 27.0,-23.7 C29.5,-24.6 31.7,-25.4 34.4,-25.9 C37.1,-26.3 41.8,-26.3 43.2,-26.4" fill="none" stroke="#52d48f" stroke-width="3.70" stroke-linecap="round" stroke-linejoin="round"/><path d="M13.7,-15.9 C14.9,-16.6 18.6,-19.0 21.1,-20.3 C23.6,-21.7 27.2,-23.4 28.5,-24.0" fill="none" stroke="#52d48f" stroke-width="5.20" stroke-linecap="round" stroke-linejoin="round"/><path d="M19.6,-20.3 C19.2,-21.4 17.6,-24.9 17.0,-27.0 C16.4,-29.1 15.8,-31.0 15.9,-32.9 C16.0,-34.7 16.9,-36.7 17.8,-38.1 C18.6,-39.4 20.5,-40.6 21.1,-41.2" fill="none" stroke="#52d48f" stroke-width="3.60" stroke-linecap="round" stroke-linejoin="round"/><path d="M33.6,-25.5 C34.2,-26.6 36.1,-29.9 37.0,-31.8 C37.8,-33.6 38.4,-35.0 38.8,-36.6 C39.2,-38.1 39.1,-40.3 39.2,-41.0" fill="none" stroke="#52d48f" stroke-width="3.40" stroke-linecap="round" stroke-linejoin="round"/><path d="M13.7,-0.4 C15.2,0.1 19.6,1.7 22.6,2.6 C25.5,3.4 28.8,4.4 31.4,4.8 C34.0,5.1 35.6,5.1 38.1,4.8 C40.5,4.4 43.4,3.6 46.2,2.6 C49.0,1.5 51.9,-0.5 55.1,-1.5 C58.3,-2.5 63.7,-2.9 65.4,-3.2" fill="none" stroke="#52d48f" stroke-width="3.70" stroke-linecap="round" stroke-linejoin="round"/><path d="M13.7,-0.4 C15.2,0.1 19.6,1.8 22.6,2.6 C25.5,3.4 30.0,4.1 31.4,4.4" fill="none" stroke="#52d48f" stroke-width="5.20" stroke-linecap="round" stroke-linejoin="round"/><path d="M34.4,4.0 C35.0,2.6 37.3,-2.0 38.1,-4.8 C38.9,-7.7 39.4,-10.5 39.2,-12.9 C39.0,-15.4 37.3,-18.5 37.0,-19.6" fill="none" stroke="#52d48f" stroke-width="3.50" stroke-linecap="round" stroke-linejoin="round"/><path d="M39.9,-8.1 C41.0,-8.8 44.4,-10.4 46.2,-11.8 C48.0,-13.3 49.9,-15.8 50.6,-16.6" fill="none" stroke="#52d48f" stroke-width="3.30" stroke-linecap="round" stroke-linejoin="round"/><path d="M46.2,2.6 C46.6,3.4 48.0,6.4 48.8,7.7 C49.5,9.1 50.3,10.2 50.6,10.7" fill="none" stroke="#52d48f" stroke-width="3.30" stroke-linecap="round" stroke-linejoin="round"/><path d="M55.1,-1.1 C55.8,-0.3 58.3,2.0 59.5,4.0 C60.7,6.1 62.0,9.9 62.4,11.1" fill="none" stroke="#52d48f" stroke-width="3.30" stroke-linecap="round" stroke-linejoin="round"/><circle cx="37.0" cy="-20.0" r="2.60" fill="#52d48f"/><circle cx="65.4" cy="-3.0" r="2.60" fill="#52d48f"/><circle cx="50.6" cy="10.3" r="2.60" fill="#52d48f"/><circle cx="62.1" cy="10.7" r="2.60" fill="#52d48f"/><ellipse cx="0.0" cy="0.2" rx="16.10" ry="16.90" fill="#52d48f"/><path d="M4.8,-14.8 C5.1,-19.2 9.8,-13.9 12.2,-14.8 C14.7,-15.7 19.1,-20.9 19.6,-20.3 C20.2,-19.8 16.4,-13.7 15.6,-11.5 C14.8,-9.3 14.6,-8.9 14.8,-7.0 C15.1,-5.2 15.5,-2.0 17.0,-0.4 C18.6,1.2 24.1,1.6 24.0,2.6 C24.0,3.5 18.9,4.0 16.7,5.5 C14.4,7.0 12.7,14.8 10.8,11.4 C8.8,8.0 4.6,-10.4 4.8,-14.8Z" fill="#5ed899" stroke="#5ed899" stroke-width="0.00"/><path d="M10.0,-13.7 C11.6,-14.7 16.8,-18.3 19.6,-20.0 C22.4,-21.6 24.5,-22.7 27.0,-23.7 C29.5,-24.6 31.7,-25.4 34.4,-25.9 C37.1,-26.3 41.8,-26.3 43.2,-26.4" fill="none" stroke="#5ed899" stroke-width="3.10" stroke-linecap="round" stroke-linejoin="round"/><path d="M13.7,-15.9 C14.9,-16.6 18.6,-19.0 21.1,-20.3 C23.6,-21.7 27.2,-23.4 28.5,-24.0" fill="none" stroke="#5ed899" stroke-width="4.60" stroke-linecap="round" stroke-linejoin="round"/><path d="M19.6,-20.3 C19.2,-21.4 17.6,-24.9 17.0,-27.0 C16.4,-29.1 15.8,-31.0 15.9,-32.9 C16.0,-34.7 16.9,-36.7 17.8,-38.1 C18.6,-39.4 20.5,-40.6 21.1,-41.2" fill="none" stroke="#5ed899" stroke-width="3.00" stroke-linecap="round" stroke-linejoin="round"/><path d="M33.6,-25.5 C34.2,-26.6 36.1,-29.9 37.0,-31.8 C37.8,-33.6 38.4,-35.0 38.8,-36.6 C39.2,-38.1 39.1,-40.3 39.2,-41.0" fill="none" stroke="#5ed899" stroke-width="2.80" stroke-linecap="round" stroke-linejoin="round"/><path d="M13.7,-0.4 C15.2,0.1 19.6,1.7 22.6,2.6 C25.5,3.4 28.8,4.4 31.4,4.8 C34.0,5.1 35.6,5.1 38.1,4.8 C40.5,4.4 43.4,3.6 46.2,2.6 C49.0,1.5 51.9,-0.5 55.1,-1.5 C58.3,-2.5 63.7,-2.9 65.4,-3.2" fill="none" stroke="#5ed899" stroke-width="3.10" stroke-linecap="round" stroke-linejoin="round"/><path d="M13.7,-0.4 C15.2,0.1 19.6,1.8 22.6,2.6 C25.5,3.4 30.0,4.1 31.4,4.4" fill="none" stroke="#5ed899" stroke-width="4.60" stroke-linecap="round" stroke-linejoin="round"/><path d="M34.4,4.0 C35.0,2.6 37.3,-2.0 38.1,-4.8 C38.9,-7.7 39.4,-10.5 39.2,-12.9 C39.0,-15.4 37.3,-18.5 37.0,-19.6" fill="none" stroke="#5ed899" stroke-width="2.90" stroke-linecap="round" stroke-linejoin="round"/><path d="M39.9,-8.1 C41.0,-8.8 44.4,-10.4 46.2,-11.8 C48.0,-13.3 49.9,-15.8 50.6,-16.6" fill="none" stroke="#5ed899" stroke-width="2.70" stroke-linecap="round" stroke-linejoin="round"/><path d="M46.2,2.6 C46.6,3.4 48.0,6.4 48.8,7.7 C49.5,9.1 50.3,10.2 50.6,10.7" fill="none" stroke="#5ed899" stroke-width="2.70" stroke-linecap="round" stroke-linejoin="round"/><path d="M55.1,-1.1 C55.8,-0.3 58.3,2.0 59.5,4.0 C60.7,6.1 62.0,9.9 62.4,11.1" fill="none" stroke="#5ed899" stroke-width="2.70" stroke-linecap="round" stroke-linejoin="round"/><circle cx="37.0" cy="-20.0" r="2.30" fill="#5ed899"/><circle cx="65.4" cy="-3.0" r="2.30" fill="#5ed899"/><circle cx="50.6" cy="10.3" r="2.30" fill="#5ed899"/><circle cx="62.1" cy="10.7" r="2.30" fill="#5ed899"/><ellipse cx="0.0" cy="0.2" rx="15.80" ry="16.60" fill="#5ed899"/><circle cx="1.1" cy="1.5" r="10.1" fill="#06c46e"/></g>
<g transform="translate(610.9,803.0) scale(0.890)"><path d="M4.8,-14.8 C5.1,-19.2 9.8,-13.9 12.2,-14.8 C14.7,-15.7 19.1,-20.9 19.6,-20.3 C20.2,-19.8 16.4,-13.7 15.6,-11.5 C14.8,-9.3 14.6,-8.9 14.8,-7.0 C15.1,-5.2 15.5,-2.0 17.0,-0.4 C18.6,1.2 24.1,1.6 24.0,2.6 C24.0,3.5 18.9,4.0 16.7,5.5 C14.4,7.0 12.7,14.8 10.8,11.4 C8.8,8.0 4.6,-10.4 4.8,-14.8Z" fill="#f8b868" stroke="#f8b868" stroke-width="1.00"/><path d="M10.0,-13.7 C11.6,-14.7 16.8,-18.3 19.6,-20.0 C22.4,-21.6 24.5,-22.7 27.0,-23.7 C29.5,-24.6 31.7,-25.4 34.4,-25.9 C37.1,-26.3 41.8,-26.3 43.2,-26.4" fill="none" stroke="#f8b868" stroke-width="4.10" stroke-linecap="round" stroke-linejoin="round"/><path d="M13.7,-15.9 C14.9,-16.6 18.6,-19.0 21.1,-20.3 C23.6,-21.7 27.2,-23.4 28.5,-24.0" fill="none" stroke="#f8b868" stroke-width="5.60" stroke-linecap="round" stroke-linejoin="round"/><path d="M19.6,-20.3 C19.2,-21.4 17.6,-24.9 17.0,-27.0 C16.4,-29.1 15.8,-31.0 15.9,-32.9 C16.0,-34.7 16.9,-36.7 17.8,-38.1 C18.6,-39.4 20.5,-40.6 21.1,-41.2" fill="none" stroke="#f8b868" stroke-width="4.00" stroke-linecap="round" stroke-linejoin="round"/><path d="M33.6,-25.5 C34.2,-26.6 36.1,-29.9 37.0,-31.8 C37.8,-33.6 38.4,-35.0 38.8,-36.6 C39.2,-38.1 39.1,-40.3 39.2,-41.0" fill="none" stroke="#f8b868" stroke-width="3.80" stroke-linecap="round" stroke-linejoin="round"/><path d="M13.7,-0.4 C15.2,0.1 19.6,1.7 22.6,2.6 C25.5,3.4 28.8,4.4 31.4,4.8 C34.0,5.1 35.6,5.1 38.1,4.8 C40.5,4.4 43.4,3.6 46.2,2.6 C49.0,1.5 51.9,-0.5 55.1,-1.5 C58.3,-2.5 63.7,-2.9 65.4,-3.2" fill="none" stroke="#f8b868" stroke-width="4.10" stroke-linecap="round" stroke-linejoin="round"/><path d="M13.7,-0.4 C15.2,0.1 19.6,1.8 22.6,2.6 C25.5,3.4 30.0,4.1 31.4,4.4" fill="none" stroke="#f8b868" stroke-width="5.60" stroke-linecap="round" stroke-linejoin="round"/><path d="M34.4,4.0 C35.0,2.6 37.3,-2.0 38.1,-4.8 C38.9,-7.7 39.4,-10.5 39.2,-12.9 C39.0,-15.4 37.3,-18.5 37.0,-19.6" fill="none" stroke="#f8b868" stroke-width="3.90" stroke-linecap="round" stroke-linejoin="round"/><path d="M39.9,-8.1 C41.0,-8.8 44.4,-10.4 46.2,-11.8 C48.0,-13.3 49.9,-15.8 50.6,-16.6" fill="none" stroke="#f8b868" stroke-width="3.70" stroke-linecap="round" stroke-linejoin="round"/><path d="M46.2,2.6 C46.6,3.4 48.0,6.4 48.8,7.7 C49.5,9.1 50.3,10.2 50.6,10.7" fill="none" stroke="#f8b868" stroke-width="3.70" stroke-linecap="round" stroke-linejoin="round"/><path d="M55.1,-1.1 C55.8,-0.3 58.3,2.0 59.5,4.0 C60.7,6.1 62.0,9.9 62.4,11.1" fill="none" stroke="#f8b868" stroke-width="3.70" stroke-linecap="round" stroke-linejoin="round"/><circle cx="37.0" cy="-20.0" r="2.80" fill="#f8b868"/><circle cx="65.4" cy="-3.0" r="2.80" fill="#f8b868"/><circle cx="50.6" cy="10.3" r="2.80" fill="#f8b868"/><circle cx="62.1" cy="10.7" r="2.80" fill="#f8b868"/><ellipse cx="0.0" cy="0.2" rx="16.30" ry="17.10" fill="#f8b868"/><path d="M4.8,-14.8 C5.1,-19.2 9.8,-13.9 12.2,-14.8 C14.7,-15.7 19.1,-20.9 19.6,-20.3 C20.2,-19.8 16.4,-13.7 15.6,-11.5 C14.8,-9.3 14.6,-8.9 14.8,-7.0 C15.1,-5.2 15.5,-2.0 17.0,-0.4 C18.6,1.2 24.1,1.6 24.0,2.6 C24.0,3.5 18.9,4.0 16.7,5.5 C14.4,7.0 12.7,14.8 10.8,11.4 C8.8,8.0 4.6,-10.4 4.8,-14.8Z" fill="#fdd48e" stroke="#fdd48e" stroke-width="0.00"/><path d="M10.0,-13.7 C11.6,-14.7 16.8,-18.3 19.6,-20.0 C22.4,-21.6 24.5,-22.7 27.0,-23.7 C29.5,-24.6 31.7,-25.4 34.4,-25.9 C37.1,-26.3 41.8,-26.3 43.2,-26.4" fill="none" stroke="#fdd48e" stroke-width="3.10" stroke-linecap="round" stroke-linejoin="round"/><path d="M13.7,-15.9 C14.9,-16.6 18.6,-19.0 21.1,-20.3 C23.6,-21.7 27.2,-23.4 28.5,-24.0" fill="none" stroke="#fdd48e" stroke-width="4.60" stroke-linecap="round" stroke-linejoin="round"/><path d="M19.6,-20.3 C19.2,-21.4 17.6,-24.9 17.0,-27.0 C16.4,-29.1 15.8,-31.0 15.9,-32.9 C16.0,-34.7 16.9,-36.7 17.8,-38.1 C18.6,-39.4 20.5,-40.6 21.1,-41.2" fill="none" stroke="#fdd48e" stroke-width="3.00" stroke-linecap="round" stroke-linejoin="round"/><path d="M33.6,-25.5 C34.2,-26.6 36.1,-29.9 37.0,-31.8 C37.8,-33.6 38.4,-35.0 38.8,-36.6 C39.2,-38.1 39.1,-40.3 39.2,-41.0" fill="none" stroke="#fdd48e" stroke-width="2.80" stroke-linecap="round" stroke-linejoin="round"/><path d="M13.7,-0.4 C15.2,0.1 19.6,1.7 22.6,2.6 C25.5,3.4 28.8,4.4 31.4,4.8 C34.0,5.1 35.6,5.1 38.1,4.8 C40.5,4.4 43.4,3.6 46.2,2.6 C49.0,1.5 51.9,-0.5 55.1,-1.5 C58.3,-2.5 63.7,-2.9 65.4,-3.2" fill="none" stroke="#fdd48e" stroke-width="3.10" stroke-linecap="round" stroke-linejoin="round"/><path d="M13.7,-0.4 C15.2,0.1 19.6,1.8 22.6,2.6 C25.5,3.4 30.0,4.1 31.4,4.4" fill="none" stroke="#fdd48e" stroke-width="4.60" stroke-linecap="round" stroke-linejoin="round"/><path d="M34.4,4.0 C35.0,2.6 37.3,-2.0 38.1,-4.8 C38.9,-7.7 39.4,-10.5 39.2,-12.9 C39.0,-15.4 37.3,-18.5 37.0,-19.6" fill="none" stroke="#fdd48e" stroke-width="2.90" stroke-linecap="round" stroke-linejoin="round"/><path d="M39.9,-8.1 C41.0,-8.8 44.4,-10.4 46.2,-11.8 C48.0,-13.3 49.9,-15.8 50.6,-16.6" fill="none" stroke="#fdd48e" stroke-width="2.70" stroke-linecap="round" stroke-linejoin="round"/><path d="M46.2,2.6 C46.6,3.4 48.0,6.4 48.8,7.7 C49.5,9.1 50.3,10.2 50.6,10.7" fill="none" stroke="#fdd48e" stroke-width="2.70" stroke-linecap="round" stroke-linejoin="round"/><path d="M55.1,-1.1 C55.8,-0.3 58.3,2.0 59.5,4.0 C60.7,6.1 62.0,9.9 62.4,11.1" fill="none" stroke="#fdd48e" stroke-width="2.70" stroke-linecap="round" stroke-linejoin="round"/><circle cx="37.0" cy="-20.0" r="2.30" fill="#fdd48e"/><circle cx="65.4" cy="-3.0" r="2.30" fill="#fdd48e"/><circle cx="50.6" cy="10.3" r="2.30" fill="#fdd48e"/><circle cx="62.1" cy="10.7" r="2.30" fill="#fdd48e"/><ellipse cx="0.0" cy="0.2" rx="15.80" ry="16.60" fill="#fdd48e"/><circle cx="1.1" cy="1.5" r="10.1" fill="#fbaf5f"/></g>
<g transform="translate(751.6,793.0) scale(1.000)" fill="none" stroke="#1ee81e" stroke-width="2.4" stroke-linecap="round" stroke-linejoin="round"><path d="M-10.59,-9.29 L-2.18,-0.29 L-2.18,19.73"/><path d="M10.88,-9.29 L2.18,-0.29 L2.18,19.73"/><path d="M-14.07,-6.38 L-6.53,1.74"/><path d="M14.36,-6.38 L6.53,1.74"/><path d="M-2.18,3.19 L2.18,3.19"/></g>
<g transform="translate(780.1,809.2) scale(0.850)" fill="none" stroke="#1ee81e" stroke-width="2.4" stroke-linecap="round" stroke-linejoin="round"><path d="M-10.59,-9.29 L-2.18,-0.29 L-2.18,19.73"/><path d="M10.88,-9.29 L2.18,-0.29 L2.18,19.73"/><path d="M-14.07,-6.38 L-6.53,1.74"/><path d="M14.36,-6.38 L6.53,1.74"/><path d="M-2.18,3.19 L2.18,3.19"/></g>
<g transform="translate(805.3,792.4) scale(0.970)" fill="none" stroke="#1ee81e" stroke-width="2.4" stroke-linecap="round" stroke-linejoin="round"><path d="M-10.59,-9.29 L-2.18,-0.29 L-2.18,19.73"/><path d="M10.88,-9.29 L2.18,-0.29 L2.18,19.73"/><path d="M-14.07,-6.38 L-6.53,1.74"/><path d="M14.36,-6.38 L6.53,1.74"/><path d="M-2.18,3.19 L2.18,3.19"/></g>
<defs><radialGradient id="glow" cx="1381.1" cy="618.3" r="37" gradientUnits="userSpaceOnUse">
<stop offset="0.6" stop-color="#a2e5ef"/><stop offset="0.8" stop-color="#c6eff5"/><stop offset="0.95" stop-color="#e2f7fa"/><stop offset="1" stop-color="#f4fbfc"/></radialGradient></defs>
<circle cx="1381.1" cy="618.3" r="36.5" fill="url(#glow)"/>
<circle cx="1380.7" cy="619.3" r="23.5" fill="#00d0f8" stroke="#0cb6f2" stroke-width="0.8"/>
<circle cx="1384.8" cy="620.1" r="12.6" fill="#05a6fa"/>
<defs>
<radialGradient id="sp1" cx="0.62" cy="0.35" r="0.75"><stop offset="0" stop-color="#5aa8f0"/><stop offset="0.25" stop-color="#3a92e6"/><stop offset="0.85" stop-color="#2f86dc"/><stop offset="1" stop-color="#1f66b8"/></radialGradient>
<radialGradient id="sp2" cx="0.55" cy="0.3" r="0.75"><stop offset="0" stop-color="#3c88ee"/><stop offset="0.25" stop-color="#0b62dd"/><stop offset="0.85" stop-color="#0a5ad6"/><stop offset="1" stop-color="#0842a8"/></radialGradient>
<radialGradient id="sp3" cx="0.62" cy="0.35" r="0.75"><stop offset="0" stop-color="#dce6fd"/><stop offset="0.3" stop-color="#b8c9fa"/><stop offset="0.85" stop-color="#aabdf8"/><stop offset="1" stop-color="#8aa4ee"/></radialGradient>
<radialGradient id="sp4" cx="0.62" cy="0.35" r="0.75"><stop offset="0" stop-color="#c6d5fb"/><stop offset="0.3" stop-color="#95aff6"/><stop offset="0.85" stop-color="#86a3f4"/><stop offset="1" stop-color="#6f8fe8"/></radialGradient>
</defs>
<circle cx="1022" cy="769.6" r="6.8" fill="url(#sp1)" stroke="#1f6cc0" stroke-width="0.8"/>
<circle cx="1010.4" cy="787" r="7" fill="url(#sp2)" stroke="#0844a6" stroke-width="0.9"/>
<circle cx="1030.6" cy="791.9" r="7" fill="url(#sp2)" stroke="#0844a6" stroke-width="0.9"/>
<circle cx="1127.2" cy="774.1" r="7.1" fill="url(#sp3)" stroke="#9eb2f2" stroke-width="0.7"/>
<circle cx="1115.1" cy="792.7" r="7.1" fill="url(#sp4)" stroke="#7896ea" stroke-width="0.7"/>
<circle cx="1136.2" cy="797.4" r="7.1" fill="url(#sp4)" stroke="#7896ea" stroke-width="0.7"/>
<!-- TEXT -->
<g text-anchor="middle">
<text x="1035.2" y="130.8" textLength="86.2" lengthAdjust="spacingAndGlyphs">CYTOKINES</text>
<text x="1035.5" y="285.2" textLength="130.8" lengthAdjust="spacingAndGlyphs">DENDRITIC CELLS</text>
<g fill="#0b1ee8" style="fill:#0b1ee8;stroke:#0b1ee8">
<text x="1028.8" y="372.1" textLength="66.4" lengthAdjust="spacingAndGlyphs" style="fill:#0b1ee8;stroke:#0b1ee8">ANTIGEN</text>
<text x="1028.4" y="390.3" textLength="94.7" lengthAdjust="spacingAndGlyphs" style="fill:#0b1ee8;stroke:#0b1ee8">PRESENTING</text>
<text x="1028.9" y="407.8" textLength="44.9" lengthAdjust="spacingAndGlyphs" style="fill:#0b1ee8;stroke:#0b1ee8">CELLS</text>
</g>
<text x="1183.2" y="378.3" textLength="149" lengthAdjust="spacingAndGlyphs">INFLUENZA A VIRUS</text>
<text x="900.4" y="455.1" textLength="101.3" lengthAdjust="spacingAndGlyphs">MHC CLASS II</text>
<text x="1164.4" y="455.1" textLength="96.5" lengthAdjust="spacingAndGlyphs">MHC CLASS I</text>
<text x="944.2" y="559" textLength="88.9" lengthAdjust="spacingAndGlyphs">NAIVE CD4+</text>
<text x="942.5" y="577" textLength="59.8" lengthAdjust="spacingAndGlyphs">T CELLS</text>
<text x="1126.3" y="559.8" textLength="88.9" lengthAdjust="spacingAndGlyphs">NAIVE CD8+</text>
<text x="1124.7" y="577.6" textLength="59.5" lengthAdjust="spacingAndGlyphs">T CELLS</text>
<text x="709.5" y="691.9" textLength="60.2" lengthAdjust="spacingAndGlyphs">B CELLS</text>
<text x="937.8" y="691.6" textLength="92.6" lengthAdjust="spacingAndGlyphs">FOLLICULAR</text>
<text x="938" y="710" textLength="70.1" lengthAdjust="spacingAndGlyphs">T HELPER</text>
<text x="937.6" y="727.7" textLength="45.8" lengthAdjust="spacingAndGlyphs">CELLS</text>
<text x="1021" y="691.3" textLength="42.8" lengthAdjust="spacingAndGlyphs">TH2 T</text>
<text x="1021" y="709.3" textLength="45.8" lengthAdjust="spacingAndGlyphs">CELLS</text>
<text x="1128.5" y="690.4" textLength="43.5" lengthAdjust="spacingAndGlyphs">TH1 T</text>
<text x="1128.6" y="708.5" textLength="46.1" lengthAdjust="spacingAndGlyphs">CELLS</text>
<text x="635.3" y="836.7" textLength="67.2" lengthAdjust="spacingAndGlyphs">MEMORY</text>
<text x="635.3" y="854.6" textLength="60.1" lengthAdjust="spacingAndGlyphs">B CELLS</text>
<text x="777.4" y="845.3" textLength="91.4" lengthAdjust="spacingAndGlyphs">ANTIBODIES</text>
<text x="1018.8" y="816.7" textLength="71.8" lengthAdjust="spacingAndGlyphs">IL-4, IL-5,</text>
<text x="1018.8" y="835.9" textLength="76.8" lengthAdjust="spacingAndGlyphs">IL-9, IL-13</text>
<text x="1127.8" y="830" textLength="86.2" lengthAdjust="spacingAndGlyphs">IFNγ, TNFα</text>
<text x="1249.7" y="670.6" textLength="82" lengthAdjust="spacingAndGlyphs">MEMORY T</text>
<text x="1249.7" y="688.3" textLength="46.5" lengthAdjust="spacingAndGlyphs">CELLS</text>
<text x="1381" y="669" textLength="100.8" lengthAdjust="spacingAndGlyphs">CYTOTOXIC T</text>
<text x="1381" y="687.2" textLength="112" lengthAdjust="spacingAndGlyphs">LYMPHOCYTES</text>
<text x="1326" y="832.4" textLength="85.5" lengthAdjust="spacingAndGlyphs">CYTOTOXIC</text>
<text x="1326.8" y="850.5" textLength="80.2" lengthAdjust="spacingAndGlyphs">GRANULES</text>
<text x="1438.5" y="840" textLength="84.5" lengthAdjust="spacingAndGlyphs">CYTOKINES</text>
</g>
</svg>
</body></html>
